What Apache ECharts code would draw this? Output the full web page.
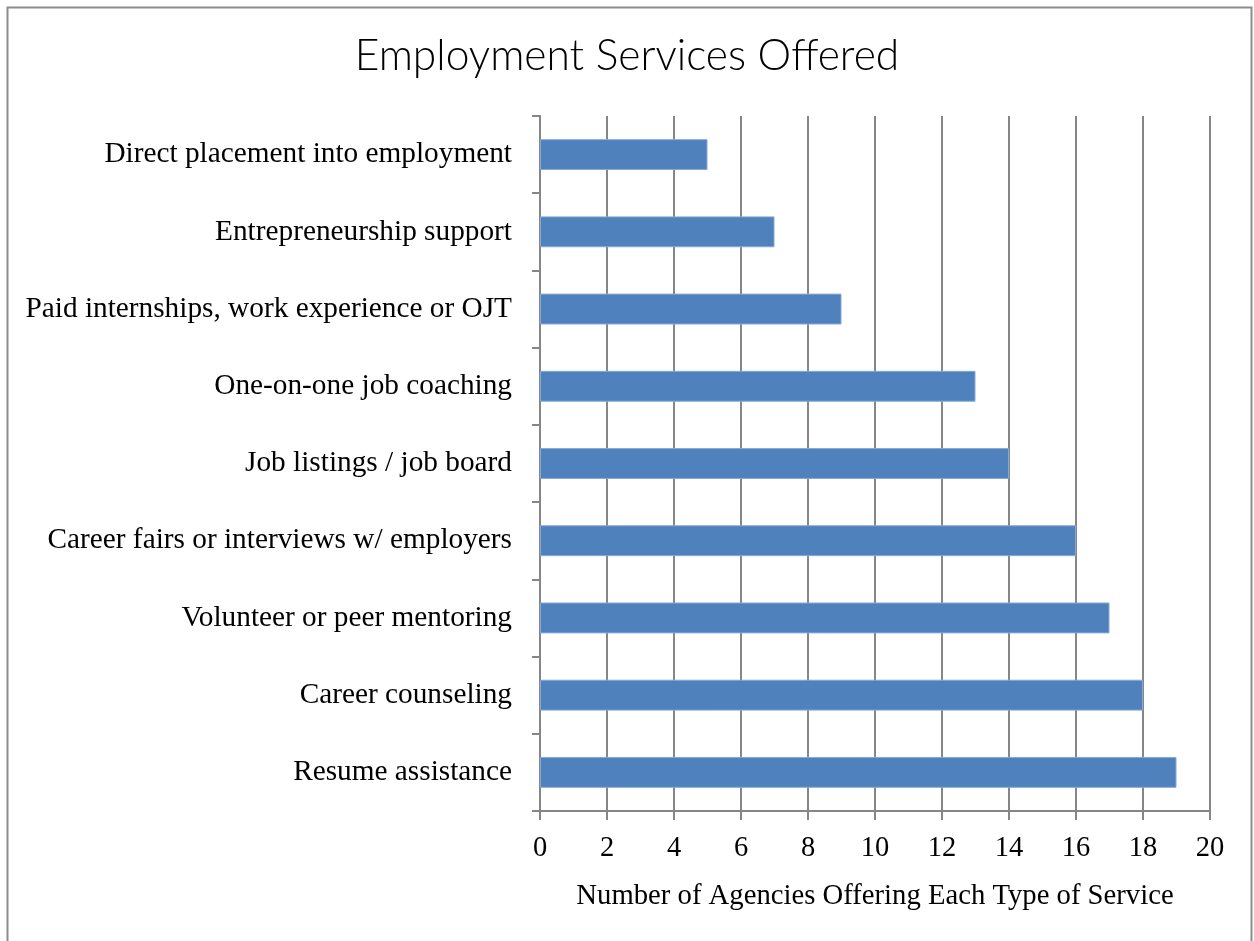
<!DOCTYPE html>
<html>
<head>
<meta charset="utf-8">
<script src="https://cdn.jsdelivr.net/npm/echarts@6/dist/echarts.min.js"></script>
<style>
  html, body { margin: 0; padding: 0; background: #fff; }
  #chart { width: 1254px; height: 941px; }
</style>
</head>
<body>
<div id="chart"></div>
<script>
// Service types, listed bottom-to-top as they appear on the category axis
const categories = [
  'Resume assistance',
  'Career counseling',
  'Volunteer or peer mentoring',
  'Career fairs or interviews w/ employers',
  'Job listings / job board',
  'One-on-one job coaching',
  'Paid internships, work experience or OJT',
  'Entrepreneurship support',
  'Direct placement into employment'
];
// Number of agencies offering each service
const agencyCounts = [19, 18, 17, 16, 14, 13, 9, 7, 5];
// Value axis range
const axisMin = 0;
const axisMax = 20;
const axisStep = 2;

const serif = '"Liberation Serif", "Times New Roman", serif';
const axisGray = '#868686';

const chart = echarts.init(document.getElementById('chart'), null, { renderer: 'canvas' });

chart.setOption({
  backgroundColor: '#ffffff',
  animation: false,
  title: {
    text: 'Employment Services Offered',
    left: 'center',
    top: 30,
    textStyle: {
      fontFamily: 'Lato, "Noto Sans", sans-serif',
      fontWeight: 300,
      fontSize: 42.5,
      color: '#000'
    }
  },
  graphic: [{
    type: 'rect',
    shape: { x: 7.5, y: 7.5, width: 1244, height: 960 },
    style: { fill: 'none', stroke: '#8c8c8c', lineWidth: 2 },
    silent: true,
    z: -1
  }],
  grid: {
    left: 540,
    right: 44,
    top: 116,
    bottom: 130,
    containLabel: false
  },
  xAxis: {
    type: 'value',
    min: axisMin,
    max: axisMax,
    interval: axisStep,
    name: 'Number of Agencies Offering Each Type of Service',
    nameLocation: 'middle',
    nameGap: 71,
    nameTextStyle: { fontFamily: serif, fontSize: 28.7, color: '#000' },
    axisLine: { show: true, lineStyle: { color: axisGray, width: 2 } },
    axisTick: { show: true, length: 9, lineStyle: { color: axisGray, width: 2 } },
    axisLabel: { margin: 23, fontFamily: serif, fontSize: 28.5, color: '#000' },
    splitLine: { show: true, lineStyle: { color: axisGray, width: 2 } }
  },
  yAxis: {
    type: 'category',
    data: categories,
    boundaryGap: true,
    axisLine: { show: true, lineStyle: { color: axisGray, width: 2 } },
    axisTick: { show: true, length: 8, alignWithLabel: false, lineStyle: { color: axisGray, width: 2 } },
    axisLabel: { margin: 28, fontFamily: serif, fontSize: 29.3, color: '#000' },
    splitLine: { show: false }
  },
  series: [{
    type: 'bar',
    data: agencyCounts,
    barWidth: '40%',
    itemStyle: {
      color: '#4F81BD',
      borderColor: '#86A9D6',
      borderWidth: 1
    }
  }]
});
</script>
</body>
</html>
